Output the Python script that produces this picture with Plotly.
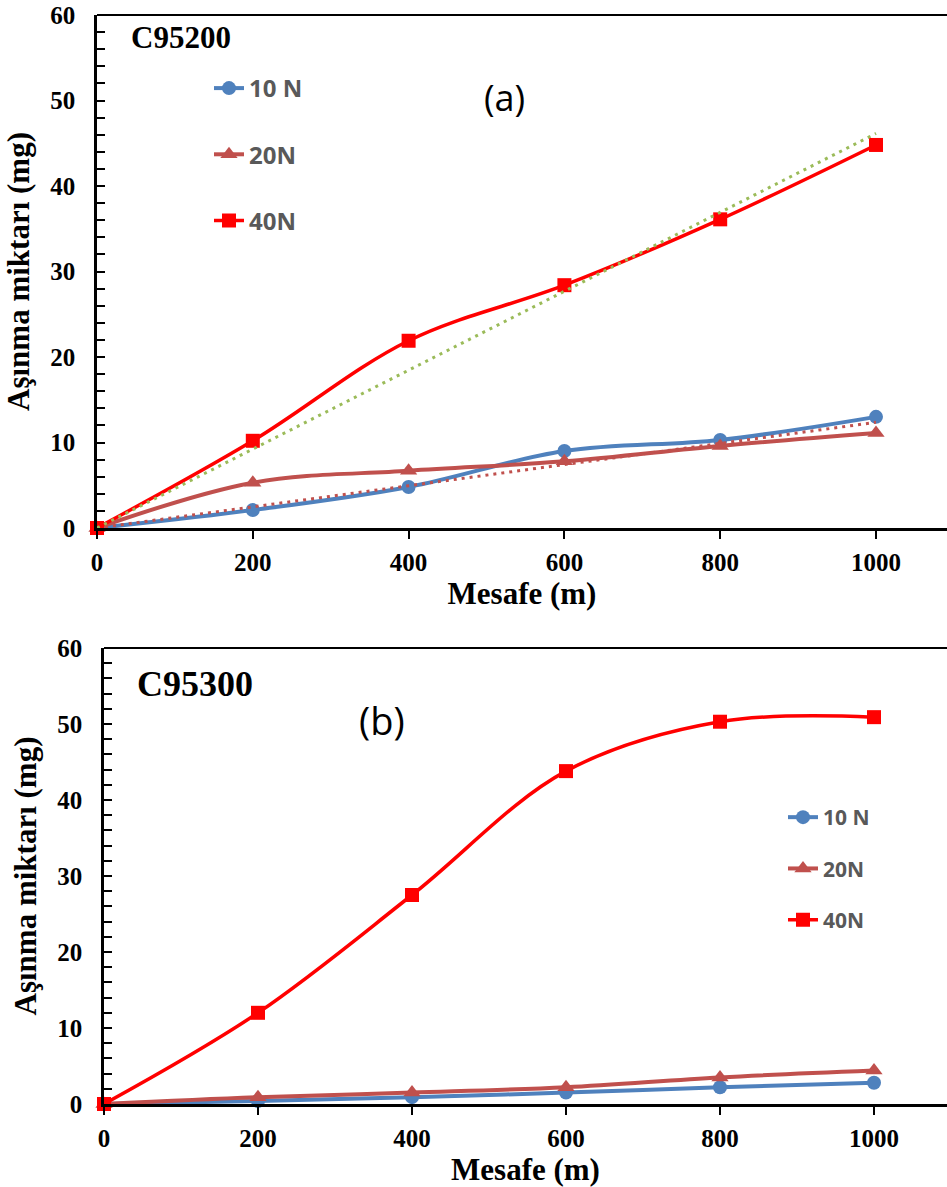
import numpy as np
import plotly.graph_objects as go

# ---------------- data ----------------
distance = [0, 200, 400, 600, 800, 1000]

# (a) C95200
a_10N = [0, 2.1, 4.8, 9.0, 10.3, 13.0]
a_20N = [0, 5.3, 6.7, 7.8, 9.6, 11.1]
a_40N = [0, 10.2, 21.9, 28.4, 36.1, 44.8]

# (b) C95300
b_10N = [0, 0.4, 0.9, 1.5, 2.2, 2.8]
b_20N = [0, 0.9, 1.5, 2.2, 3.5, 4.4]
b_40N = [0, 12.0, 27.5, 43.8, 50.3, 50.9]

series_names = ["10 N", "20N", "40N"]
y_ticks = [0, 10, 20, 30, 40, 50, 60]
x_ticks = [0, 200, 400, 600, 800, 1000]

# ---------------- styles ----------------
BLUE = "#4F81BD"
BROWN = "#C0504D"
RED = "#FF0000"
GREEN = "#9BBB59"
SERIF = "Liberation Serif"
SANS = "Open Sans"
W, H = 947, 1187


def zero_intercept_trend(x, y):
    x = np.asarray(x, float)
    y = np.asarray(y, float)
    slope = float((x * y).sum() / (x * x).sum())
    xs = np.array([x.min(), x.max()])
    return xs, slope * xs


fig = go.Figure()

styles = [
    dict(color=BLUE, symbol="circle", size=14, width=4),
    dict(color=BROWN, symbol="triangle-up", size=15, width=4),
    dict(color=RED, symbol="square", size=14, width=3.5),
]

for panel, (vals, xa, ya, leg) in enumerate([
    ((a_10N, a_20N, a_40N), "x", "y", "legend"),
    ((b_10N, b_20N, b_40N), "x2", "y2", "legend2"),
]):
    for i, (name, yv, st) in enumerate(zip(series_names, vals, styles)):
        fig.add_trace(go.Scatter(
            x=distance, y=yv, name=name, mode="lines+markers",
            line=dict(color=st["color"], width=st["width"], shape="spline", smoothing=1.0),
            marker=dict(symbol=st["symbol"], size=st["size"], color=st["color"]),
            xaxis=xa, yaxis=ya, legend=leg, legendgroup=f"g{panel}{i}",
            cliponaxis=False,
        ))

# trendlines (panel a)
tx, ty = zero_intercept_trend(distance, a_20N)
fig.add_trace(go.Scatter(x=tx, y=ty, mode="lines", showlegend=False,
                         line=dict(color=BROWN, width=3, dash="3px,5px"),
                         xaxis="x", yaxis="y", hoverinfo="skip"))
tx, ty = zero_intercept_trend(distance, a_40N)
fig.add_trace(go.Scatter(x=tx, y=ty, mode="lines", showlegend=False,
                         line=dict(color=GREEN, width=3, dash="3px,5px"),
                         xaxis="x", yaxis="y", hoverinfo="skip"))

tickfont = dict(family=SERIF, size=25, color="black", weight="bold")
titlefont = dict(family=SERIF, size=31, color="black", weight="bold")


def xaxis(domain, rng, anchor):
    return dict(
        domain=domain, range=rng, anchor=anchor, automargin=False,
        tickmode="array", tickvals=x_ticks,
        showline=True, linecolor="black", linewidth=3,
        ticks="outside", ticklen=8, tickwidth=2, tickcolor="black",
        showgrid=False, zeroline=False, tickfont=tickfont,
        ticklabelstandoff=2,
        title=dict(text="Mesafe (m)", font=titlefont, standoff=3),
    )


def yaxis(domain, anchor):
    return dict(
        domain=domain, range=[0, 60], anchor=anchor, automargin=False,
        tickmode="array", tickvals=y_ticks,
        showline=True, linecolor="black", linewidth=2.5,
        ticks="inside", ticklen=8, tickwidth=2, tickcolor="black",
        minor=dict(ticks="inside", ticklen=8, tickwidth=2, tickcolor="black", dtick=2, showgrid=False),
        showgrid=False, zeroline=False, tickfont=tickfont,
        ticklabelstandoff=14,
        title=dict(text="Aşınma miktarı (mg)", font=titlefont, standoff=12),
    )


fig.update_layout(
    width=W, height=H,
    margin=dict(l=0, r=0, t=0, b=0, autoexpand=False),
    paper_bgcolor="white", plot_bgcolor="white",
    xaxis=xaxis([97 / W, 1], [0, (W - 97) / 0.779], "y"),
    yaxis=yaxis([1 - 528 / H, 1 - 15 / H], "x"),
    xaxis2=xaxis([104 / W, 1], [0, (W - 104) / 0.770], "y2"),
    yaxis2=yaxis([1 - 1104 / H, 1 - 648 / H], "x2"),
    legend=dict(
        x=209 / W, y=1 - 66 / H, xanchor="left", yanchor="top",
        font=dict(family=SANS, size=24, color="#595959", weight="bold"),
        traceorder="grouped", tracegroupgap=32, bgcolor="rgba(0,0,0,0)",
    ),
    legend2=dict(
        x=783 / W, y=1 - 797 / H, xanchor="left", yanchor="top",
        font=dict(family=SANS, size=21, color="#595959", weight="bold"),
        traceorder="grouped", tracegroupgap=21, bgcolor="rgba(0,0,0,0)",
    ),
    showlegend=True,
)

# top border lines of plot frames
for xr, yr in [("x domain", "y domain"), ("x2 domain", "y2 domain")]:
    fig.add_shape(type="line", xref=xr, yref=yr, x0=0, x1=1, y0=1, y1=1,
                  line=dict(color="black", width=2))

annots = [
    dict(text="C95200", x=181 / W, y=1 - 37 / H, font=dict(family=SERIF, size=31, color="black", weight="bold")),
    dict(text="(a)", x=504 / W, y=1 - 97 / H, font=dict(family=SANS, size=36, color="black")),
    dict(text="C95300", x=195 / W, y=1 - 684 / H, font=dict(family=SERIF, size=36, color="black", weight="bold")),
    dict(text="(b)", x=382 / W, y=1 - 720 / H, font=dict(family=SANS, size=38, color="black")),
]
for a in annots:
    fig.add_annotation(xref="paper", yref="paper", showarrow=False,
                       xanchor="center", yanchor="middle", **a)

fig.write_html("out.html")
